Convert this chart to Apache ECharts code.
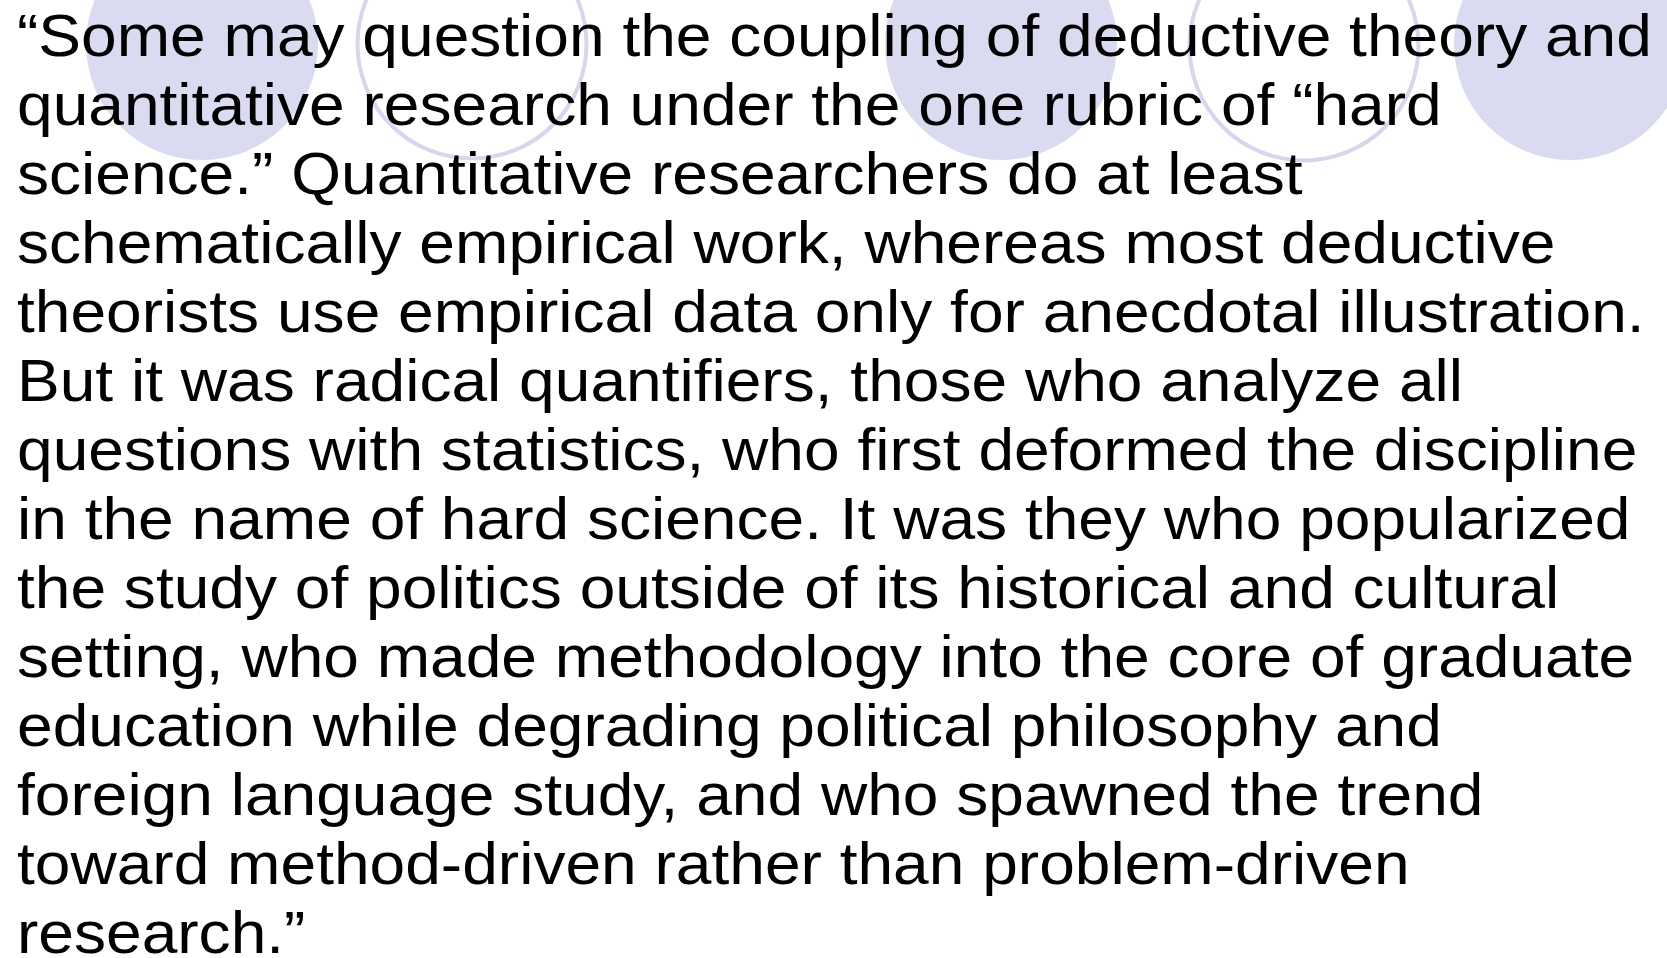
<!DOCTYPE html>
<html>
<head>
<meta charset="utf-8">
<script src="https://cdn.jsdelivr.net/npm/echarts@6/dist/echarts.min.js"></script>
<style>
html,body{margin:0;padding:0;background:#fff;}
#chart{width:1667px;height:958px;}
</style>
</head>
<body>
<div id="chart"></div>
<script>
// Decorative circles (slide background), centers in page units
const filledCircleX = [202, 1001, 1570];
const filledCircleY = [44, 44, 44];
const outlineCircleX = [472, 1304];
const outlineCircleY = [44, 46];

// Slide text, one entry per line
const textLines = [
  '\u201CSome may question the coupling of deductive theory and',
  'quantitative research under the one rubric of \u201Chard',
  'science.\u201D Quantitative researchers do at least',
  'schematically empirical work, whereas most deductive',
  'theorists use empirical data only for anecdotal illustration.',
  'But it was radical quantifiers, those who analyze all',
  'questions with statistics, who first deformed the discipline',
  'in the name of hard science. It was they who popularized',
  'the study of politics outside of its historical and cultural',
  'setting, who made methodology into the core of graduate',
  'education while degrading political philosophy and',
  'foreign language study, and who spawned the trend',
  'toward method-driven rather than problem-driven',
  'research.\u201D'
];

const W = 1667, H = 958;
const chart = echarts.init(document.getElementById('chart'), null, {renderer: 'canvas'});

const fontSize = 59;
const lineHeight = 69;

chart.setOption({
  animation: false,
  backgroundColor: '#ffffff',
  grid: {left: 0, right: 0, top: 0, bottom: 0},
  xAxis: {type: 'value', min: 0, max: W, show: false},
  yAxis: {type: 'value', min: 0, max: H, inverse: true, show: false},
  series: [
    {
      type: 'scatter',
      clip: false,
      silent: true,
      symbol: 'circle',
      symbolSize: 232,
      data: filledCircleX.map((x, i) => [x, filledCircleY[i]]),
      itemStyle: {color: '#dadaf0', opacity: 1},
      z: 1
    },
    {
      type: 'scatter',
      clip: false,
      silent: true,
      symbol: 'circle',
      symbolSize: 229,
      data: outlineCircleX.map((x, i) => [x, outlineCircleY[i]]),
      itemStyle: {color: 'rgba(0,0,0,0)', borderColor: '#d6d6ee', borderWidth: 4, opacity: 1},
      z: 1
    }
  ],
  graphic: [
    {
      type: 'text',
      z: 100,
      x: 17,
      y: 5,
      scaleX: 1.086,
      silent: true,
      style: {
        x: 0,
        y: 0,
        text: textLines.join('\n'),
        font: fontSize + 'px "Liberation Sans", Arial, sans-serif',
        lineHeight: lineHeight,
        fill: '#000000'
      }
    }
  ]
});
</script>
</body>
</html>
